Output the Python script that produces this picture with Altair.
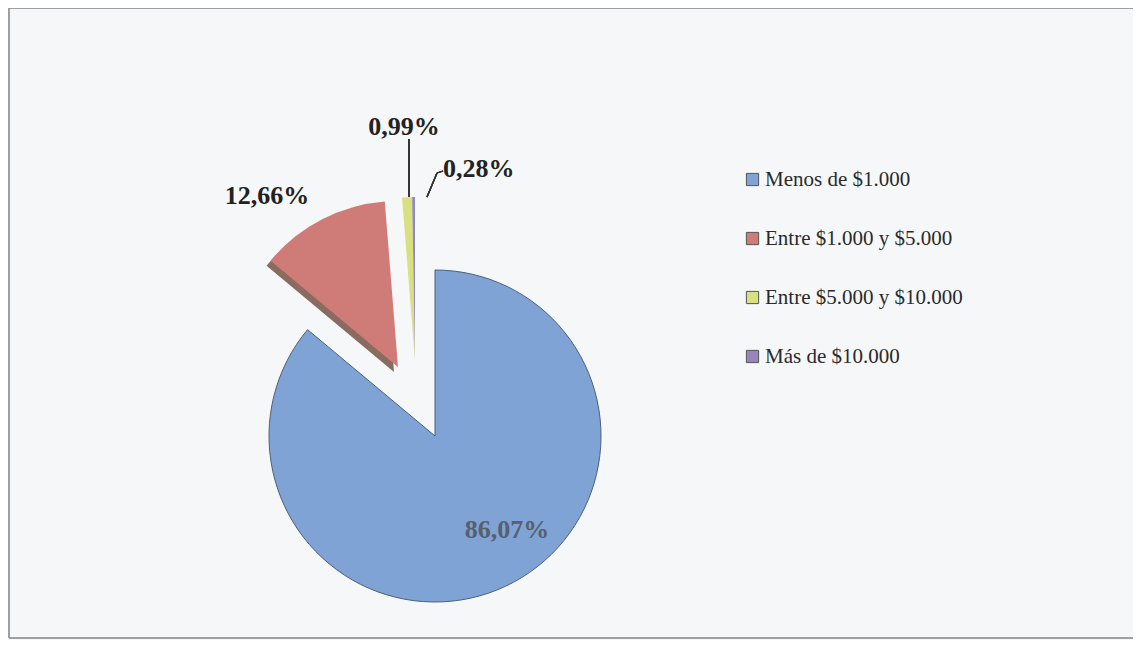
import math
import altair as alt
import pandas as pd

# ---- data ----
categories = ["Menos de $1.000", "Entre $1.000 y $5.000", "Entre $5.000 y $10.000", "Más de $10.000"]
values = [86.07, 12.66, 0.99, 0.28]
colors = ["#7fa3d4", "#cf7b77", "#d7e27f", "#9686bd"]
labels = [f"{v:.2f}".replace(".", ",") + "%" for v in values]

df = pd.DataFrame({"cat": categories, "value": values, "order": list(range(len(categories))), "label": labels})

W, H = 1125, 632
CX, CY = 427, 428
SERIF = "Liberation Serif"

base = (
    alt.Chart(df)
    .transform_window(cum="sum(value)", sort=[alt.SortField("order")], frame=[None, 0])
    .transform_calculate(start="datum.cum - datum.value")
)

theta_scale = alt.Scale(domain=[0, 100], range=[0, 2 * math.pi])
color_enc = alt.Color(
    "cat:N",
    scale=alt.Scale(domain=categories, range=colors),
    legend=alt.Legend(orient="none", legendX=734, legendY=161, title=None),
)


def arc_layer(cats, cx, cy, r, **mk):
    return base.transform_filter(alt.FieldOneOfPredicate(field="cat", oneOf=cats)).mark_arc(radius=r, **mk).encode(
        theta=alt.Theta("start:Q", scale=theta_scale, stack=False),
        theta2="cum:Q",
        color=color_enc,
        x=alt.value(cx),
        y=alt.value(cy),
    )


blue = arc_layer([categories[0]], CX, CY, 166, stroke="#4d5f7a", strokeWidth=1)
red_shadow = base.transform_filter(alt.FieldOneOfPredicate(field="cat", oneOf=[categories[1]])).mark_arc(
    radius=166, color="#8a6b60").encode(
    theta=alt.Theta("start:Q", scale=theta_scale, stack=False),
    theta2="cum:Q",
    x=alt.value(386), y=alt.value(364),
)
red = arc_layer([categories[1]], 390, 359, 166)
small = arc_layer(categories[2:], 407, 352, 163)


def text_layer(cat, x, y, align="center", color="#222222"):
    return base.transform_filter(alt.FieldEqualPredicate(field="cat", equal=cat)).mark_text(
        font=SERIF, fontSize=26, fontWeight="bold", align=align, baseline="middle", color=color
    ).encode(text="label:N", x=alt.value(x), y=alt.value(y))


t_blue = text_layer(categories[0], 499, 522, color="#56606e")
t_red = text_layer(categories[1], 259, 188)
t_yel = text_layer(categories[2], 396, 119)
t_pur = text_layer(categories[3], 435, 161, align="left")

rule = lambda x1, y1, x2, y2, c="#333333", w=1.3: alt.Chart(df).mark_rule(color=c, strokeWidth=w).encode(
    x=alt.value(x1), y=alt.value(y1), x2=alt.value(x2), y2=alt.value(y2))

leaders = [
    rule(401, 131, 401, 189),
    rule(435, 163, 429, 165),
    rule(429, 165, 419, 189),
]
border = [
    rule(1, 0, W, 0, "#9a9a9a", 1),
    rule(1, 0, 1, 630, "#9a9a9a", 1),
    rule(1, 630, W, 630, "#9a9a9a", 1),
]

chart = alt.layer(
    *border, blue, red_shadow, red, small, *leaders, t_blue, t_red, t_yel, t_pur
).properties(
    width=W, height=H, padding=0, autosize="none", background="#f6f7f8"
).configure_view(strokeWidth=0).configure_legend(
    symbolType="square", symbolSize=150, symbolStrokeColor="#555555", symbolStrokeWidth=1,
    labelFont=SERIF, labelFontSize=21, labelColor="#2a2a2a", labelLimit=0,
    rowPadding=37, labelOffset=2,
)

chart.save("out.html", embed_options={"renderer": "svg", "actions": False})
